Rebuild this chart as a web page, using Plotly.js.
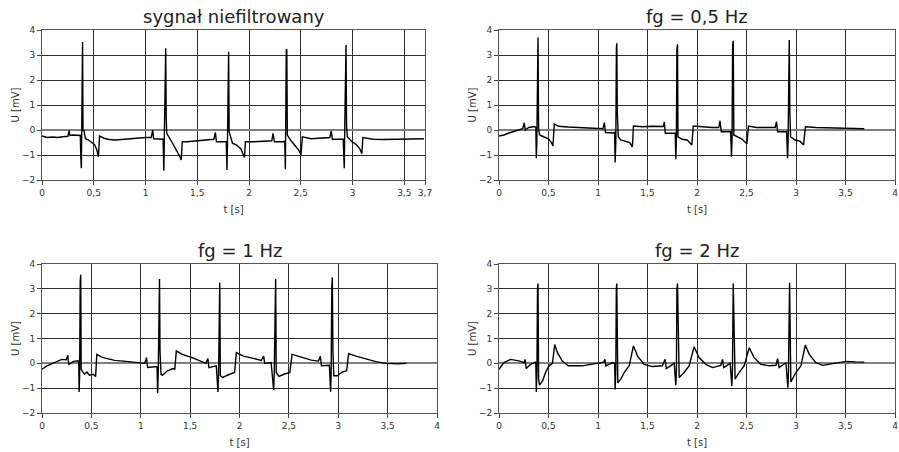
<!DOCTYPE html>
<html>
<head>
<meta charset="utf-8">
<script src="https://cdn.plot.ly/plotly-3.0.1.min.js"></script>
<style>html,body{margin:0;padding:0;background:#fff;}#chart{width:899px;height:452px;}</style>
</head>
<body>
<div id="chart"></div>
<script>
// ---- data ----
const titles = ["sygnał niefiltrowany", "fg = 0,5 Hz", "fg = 1 Hz", "fg = 2 Hz"];
const xTicks1 = [0, 0.5, 1, 1.5, 2, 2.5, 3, 3.5, 3.7];
const xTickText1 = ["0", "0,5", "1", "1,5", "2", "2,5", "3", "3,5", "3,7"];
const xTicks = [0, 0.5, 1, 1.5, 2, 2.5, 3, 3.5, 4];
const xTickText = ["0", "0,5", "1", "1,5", "2", "2,5", "3", "3,5", "4"];
const yTicks = [-2, -1, 0, 1, 2, 3, 4];

// raw signal
const t1 = [0,0.05,0.1,0.15,0.2,0.25,0.262,0.27,0.3,0.36,0.37,0.375,0.38,0.383,0.388,0.392,0.396,0.405,0.42,0.45,0.48,0.51,0.53,0.545,0.556,0.6,0.65,0.7,0.8,0.9,1.0,1.055,1.07,1.078,1.12,1.17,1.177,1.182,1.19,1.195,1.2,1.205,1.25,1.3,1.33,1.345,1.355,1.4,1.5,1.6,1.66,1.675,1.685,1.78,1.787,1.792,1.797,1.803,1.808,1.84,1.88,1.92,1.956,1.965,2.05,2.15,2.22,2.232,2.245,2.33,2.345,2.351,2.356,2.36,2.365,2.37,2.4,2.44,2.48,2.502,2.515,2.6,2.7,2.78,2.795,2.805,2.91,2.92,2.925,2.932,2.937,2.942,2.95,2.99,3.04,3.07,3.09,3.1,3.2,3.3,3.4,3.5,3.6,3.69];
const u1 = [-0.24,-0.3,-0.28,-0.3,-0.27,-0.25,-0.03,-0.22,-0.2,-0.2,-0.22,-1.1,-1.53,-0.3,3.45,3.52,0.0,-0.02,-0.35,-0.4,-0.5,-0.6,-0.8,-1.07,-0.24,-0.33,-0.38,-0.4,-0.37,-0.33,-0.3,-0.3,0.0,-0.35,-0.37,-0.37,-1.63,-0.2,2.8,3.27,0.53,-0.13,-0.45,-0.8,-1.05,-1.2,-0.47,-0.47,-0.43,-0.4,-0.37,-0.1,-0.47,-0.47,-1.6,-0.4,2.9,3.13,-0.07,-0.53,-0.6,-0.75,-1.1,-0.47,-0.47,-0.45,-0.43,-0.13,-0.47,-0.47,-0.45,-1.57,0.4,3.23,3.2,-0.2,-0.4,-0.6,-0.8,-1.0,-0.27,-0.35,-0.33,-0.3,-0.04,-0.37,-0.37,-1.53,0.16,3.3,3.4,0.16,-0.27,-0.45,-0.6,-0.75,-0.95,-0.3,-0.37,-0.38,-0.37,-0.38,-0.37,-0.35];

// fg = 0,5 Hz
const t2 = [0,0.05,0.1,0.15,0.2,0.24,0.255,0.265,0.3,0.36,0.372,0.377,0.382,0.388,0.394,0.4,0.41,0.45,0.5,0.53,0.545,0.558,0.6,0.7,0.8,0.9,1.0,1.05,1.065,1.075,1.15,1.168,1.173,1.18,1.186,1.19,1.195,1.205,1.23,1.28,1.32,1.348,1.358,1.45,1.55,1.66,1.67,1.68,1.78,1.786,1.792,1.797,1.803,1.808,1.85,1.9,1.948,1.962,2.05,2.15,2.22,2.232,2.245,2.34,2.348,2.354,2.36,2.366,2.372,2.41,2.45,2.504,2.52,2.6,2.7,2.79,2.803,2.815,2.905,2.915,2.92,2.926,2.932,2.938,2.945,2.99,3.04,3.076,3.095,3.2,3.3,3.437,3.55,3.69];
const u2 = [-0.24,-0.2,-0.12,-0.05,0.02,0.05,0.29,0.0,0.1,0.14,0.1,-1.13,-0.5,3.5,3.7,0.07,-0.2,-0.27,-0.35,-0.5,-0.64,0.24,0.15,0.12,0.1,0.1,0.08,0.05,0.3,-0.1,-0.12,-0.1,-1.3,-0.5,3.3,3.47,0.7,-0.27,-0.4,-0.45,-0.5,-0.67,0.16,0.13,0.15,0.14,0.32,-0.13,-0.13,-1.17,-0.3,3.2,3.43,-0.27,-0.37,-0.4,-0.6,0.16,0.12,0.1,0.1,0.37,-0.07,-0.07,-1.07,-0.4,3.4,3.57,-0.2,-0.27,-0.35,-0.55,0.16,0.1,0.1,0.1,0.33,-0.07,-0.07,-1.13,-0.5,3.2,3.6,0.76,-0.27,-0.4,-0.45,-0.6,0.13,0.1,0.09,0.08,0.06,0.05];

// fg = 1 Hz
const t3 = [0,0.05,0.11,0.16,0.2,0.245,0.26,0.272,0.32,0.365,0.372,0.376,0.381,0.387,0.392,0.397,0.43,0.455,0.48,0.52,0.543,0.555,0.6,0.65,0.736,0.85,0.955,1.04,1.058,1.07,1.165,1.171,1.177,1.184,1.19,1.195,1.205,1.22,1.27,1.327,1.345,1.36,1.42,1.52,1.613,1.66,1.68,1.69,1.765,1.782,1.788,1.795,1.8,1.806,1.83,1.9,1.95,1.968,2.04,2.14,2.22,2.245,2.255,2.32,2.346,2.352,2.36,2.366,2.372,2.4,2.45,2.51,2.532,2.61,2.727,2.8,2.819,2.83,2.91,2.923,2.928,2.935,2.94,2.946,2.955,2.99,3.04,3.085,3.105,3.18,3.285,3.38,3.487,3.6,3.69];
const u3 = [-0.24,-0.1,0.0,0.1,0.16,0.14,0.33,-0.04,0.08,0.1,0.05,-1.15,-0.5,3.3,3.57,-0.24,-0.44,-0.35,-0.48,-0.44,-0.53,0.36,0.26,0.2,0.12,0.08,0.03,0.0,0.23,-0.17,-0.13,-1.2,-0.4,3.0,3.4,0.5,-0.44,-0.48,-0.3,-0.21,-0.23,0.5,0.36,0.23,0.09,0.0,0.19,-0.17,-0.1,-1.15,-0.4,3.1,3.25,-0.5,-0.57,-0.44,-0.37,0.43,0.29,0.2,0.12,0.29,0.0,0.03,-1.07,-0.4,3.2,3.4,-0.37,-0.53,-0.44,-0.37,0.36,0.27,0.13,0.09,0.29,-0.1,-0.08,-1.14,-0.4,3.1,3.46,0.5,-0.5,-0.5,-0.35,-0.3,0.39,0.29,0.19,0.07,0.0,-0.02,0.0];

// fg = 2 Hz
const t4 = [0,0.05,0.118,0.2,0.253,0.263,0.275,0.32,0.365,0.372,0.377,0.383,0.389,0.394,0.4,0.41,0.44,0.47,0.505,0.54,0.563,0.59,0.64,0.7,0.84,0.94,1.06,1.07,1.08,1.145,1.168,1.173,1.18,1.185,1.19,1.2,1.23,1.265,1.315,1.358,1.4,1.466,1.55,1.65,1.678,1.69,1.77,1.786,1.792,1.797,1.803,1.82,1.87,1.92,1.971,2.02,2.09,2.157,2.24,2.258,2.27,2.335,2.352,2.358,2.362,2.366,2.385,2.425,2.476,2.527,2.577,2.644,2.73,2.797,2.814,2.83,2.898,2.918,2.924,2.93,2.935,2.948,2.999,3.05,3.094,3.134,3.2,3.27,3.4,3.505,3.6,3.69];
const u4 = [-0.24,0.03,0.16,0.1,0.03,0.16,-0.21,-0.04,0.05,0.0,-1.15,-0.3,3.0,3.21,-0.64,-0.88,-0.71,-0.37,-0.1,0.0,0.76,0.43,0.09,-0.1,-0.1,-0.04,0.05,0.16,-0.1,0.03,0.0,-1.05,-0.3,3.0,3.21,-0.78,-0.64,-0.37,-0.1,0.7,0.29,-0.04,-0.13,-0.1,0.16,-0.21,0.0,-0.88,-0.3,3.0,3.21,-0.57,-0.37,-0.1,0.67,0.23,-0.04,-0.17,-0.08,0.16,-0.17,0.0,-0.91,-0.3,3.0,3.21,-0.64,-0.37,-0.1,0.63,0.23,-0.04,-0.1,-0.08,0.19,-0.17,0.03,-0.98,-0.3,3.0,3.24,-0.75,-0.37,-0.1,0.74,0.36,0.03,-0.08,0.0,0.08,0.06,0.05];

// ---- chart ----
const W = 899, H = 452;
const boxes = [ // [left, right, top, bottom] in px
  [42, 425, 30, 180],
  [499, 895, 30, 180],
  [42, 437, 264, 413],
  [499, 895, 264, 413]
];
const series = [[t1, u1], [t2, u2], [t3, u3], [t4, u4]];
const FONT = "DejaVu Sans, Verdana, sans-serif";

const data = series.map((s, i) => ({
  x: s[0], y: s[1], type: "scatter", mode: "lines",
  line: {color: "#000", width: 1.4},
  xaxis: i === 0 ? "x" : "x" + (i + 1),
  yaxis: i === 0 ? "y" : "y" + (i + 1),
  hoverinfo: "skip", showlegend: false
}));

const layout = {
  width: W, height: H,
  margin: {l: 0, r: 0, t: 0, b: 0},
  paper_bgcolor: "#fff", plot_bgcolor: "#fff",
  showlegend: false,
  annotations: []
};

boxes.forEach((b, i) => {
  const sx = i === 0 ? "" : String(i + 1);
  const first = i === 0;
  layout["xaxis" + sx] = {
    domain: [b[0] / W, b[1] / W],
    anchor: "y" + sx,
    range: first ? [0, 3.7] : [0, 4],
    tickmode: "array",
    tickvals: first ? xTicks1 : xTicks,
    ticktext: first ? xTickText1 : xTickText,
    ticks: "outside", ticklen: 4, tickcolor: "#444",
    showgrid: true, gridcolor: "#2e2e2e", gridwidth: 1,
    zeroline: false,
    showline: true, linecolor: "#555", linewidth: 1, mirror: true,
    tickfont: {family: FONT, size: 9, color: "#333"},
    title: {text: "t [s]", font: {family: FONT, size: 10, color: "#333"}, standoff: 9},
    automargin: false, fixedrange: true
  };
  layout["yaxis" + sx] = {
    domain: [1 - b[3] / H, 1 - b[2] / H],
    anchor: "x" + sx,
    range: [-2, 4],
    tickmode: "array", tickvals: yTicks,
    ticks: "outside", ticklen: 4, tickcolor: "#444",
    showgrid: true, gridcolor: "#2e2e2e", gridwidth: 1,
    zeroline: true, zerolinecolor: "#808080", zerolinewidth: 2,
    showline: true, linecolor: "#555", linewidth: 1, mirror: true,
    tickfont: {family: FONT, size: 9, color: "#333"},
    title: {text: "U [mV]", font: {family: FONT, size: 10, color: "#333"}, standoff: 0},
    automargin: false, fixedrange: true
  };
  layout.annotations.push({
    text: titles[i], xref: "paper", yref: "paper",
    x: ((b[0] + b[1]) / 2) / W, y: 1 - (b[2] - 14) / H,
    xanchor: "center", yanchor: "middle", showarrow: false,
    font: {family: FONT, size: 18, color: "#222"}
  });
});

Plotly.newPlot("chart", data, layout, {displayModeBar: false, staticPlot: true});
</script>
</body>
</html>
